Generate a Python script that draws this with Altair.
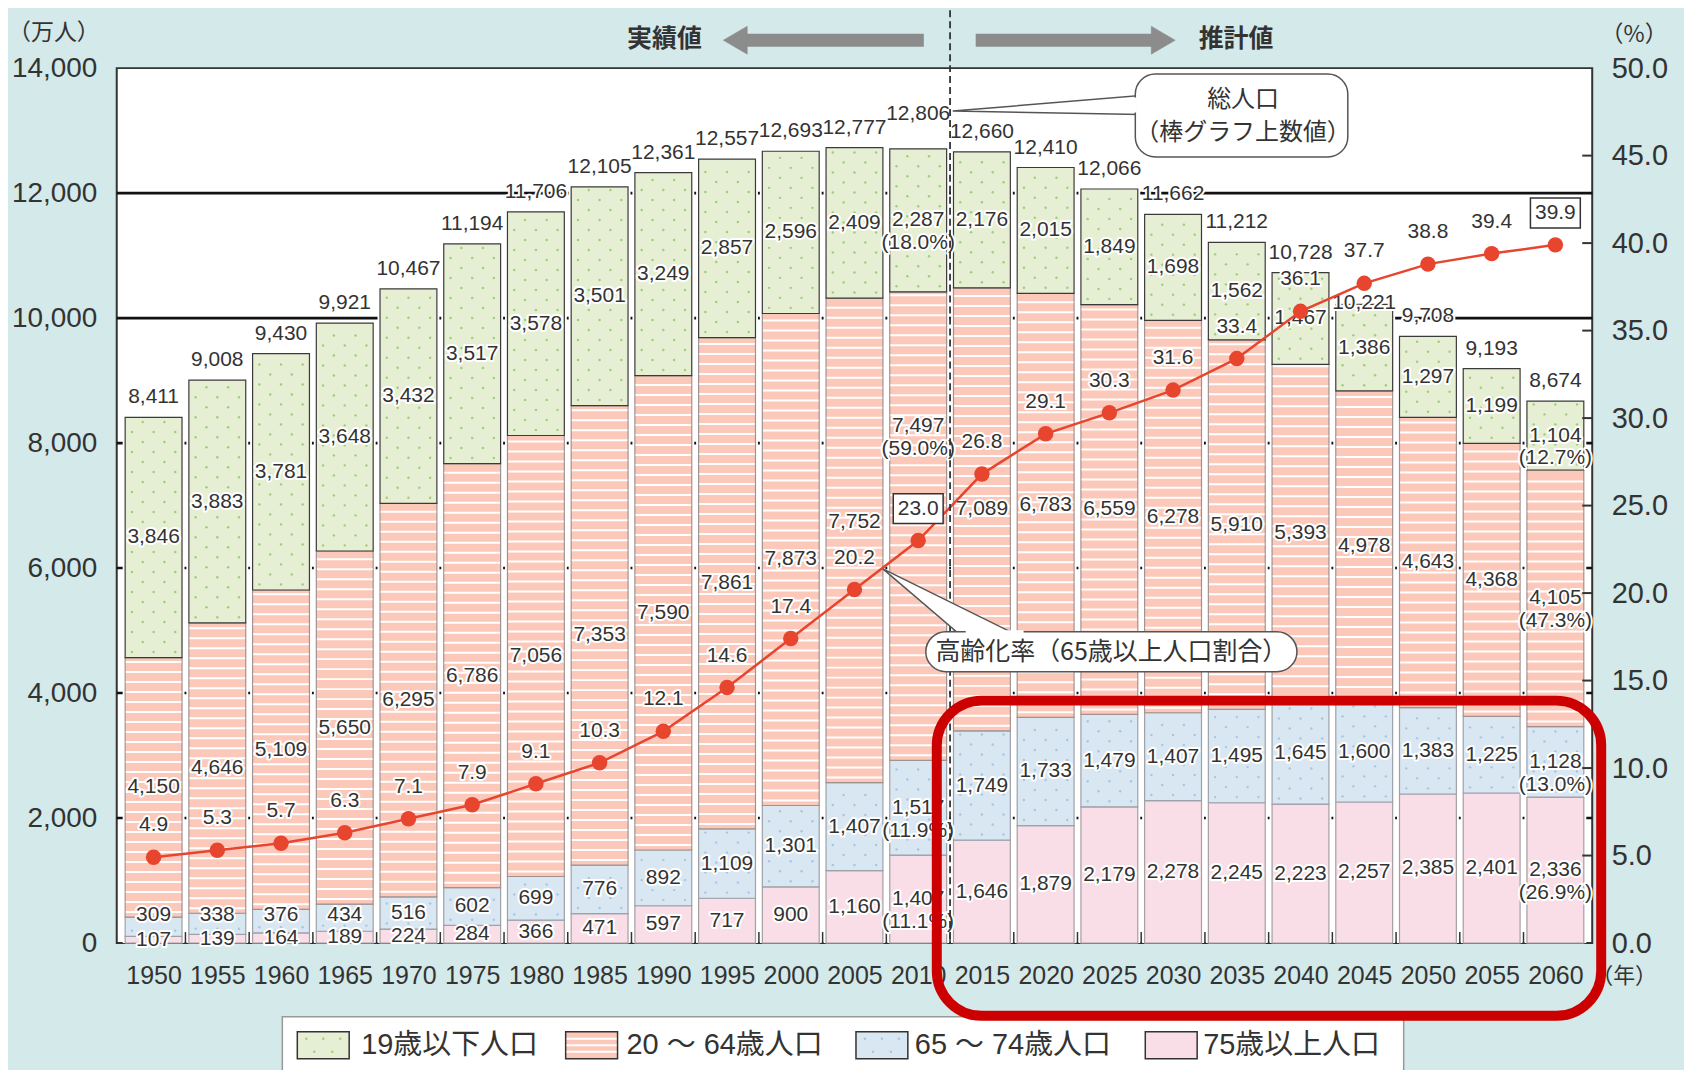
import altair as alt
import pandas as pd

# ---------------- data ----------------
years = list(range(1950, 2061, 5))
total_pop = [8411, 9008, 9430, 9921, 10467, 11194, 11706, 12105, 12361, 12557, 12693, 12777,
             12806, 12660, 12410, 12066, 11662, 11212, 10728, 10221, 9708, 9193, 8674]
pop_0_19 = [3846, 3883, 3781, 3648, 3432, 3517, 3578, 3501, 3249, 2857, 2596, 2409,
            2287, 2176, 2015, 1849, 1698, 1562, 1467, 1386, 1297, 1199, 1104]
pop_20_64 = [4150, 4646, 5109, 5650, 6295, 6786, 7056, 7353, 7590, 7861, 7873, 7752,
             7497, 7089, 6783, 6559, 6278, 5910, 5393, 4978, 4643, 4368, 4105]
pop_65_74 = [309, 338, 376, 434, 516, 602, 699, 776, 892, 1109, 1301, 1407,
             1517, 1749, 1733, 1479, 1407, 1495, 1645, 1600, 1383, 1225, 1128]
pop_75 = [107, 139, 164, 189, 224, 284, 366, 471, 597, 717, 900, 1160,
          1407, 1646, 1879, 2179, 2278, 2245, 2223, 2257, 2385, 2401, 2336]
aging_rate = [4.9, 5.3, 5.7, 6.3, 7.1, 7.9, 9.1, 10.3, 12.1, 14.6, 17.4, 20.2,
              23.0, 26.8, 29.1, 30.3, 31.6, 33.4, 36.1, 37.7, 38.8, 39.4, 39.9]
share_2010 = [18.0, 59.0, 11.9, 11.1]
share_2060 = [12.7, 47.3, 13.0, 26.9]
groups = ["19歳以下人口", "20 ～ 64歳人口", "65 ～ 74歳人口", "75歳以上人口"]
boxed_years = [2010, 2060]
left_ticks = list(range(0, 14001, 2000))
right_ticks = [0, 5, 10, 15, 20, 25, 30, 35, 40, 45, 50]

# ---------------- style ----------------
FONT = "Liberation Sans, Noto Sans CJK JP, sans-serif"
JFONT = "Noto Sans CJK JP, Liberation Sans, sans-serif"
TXT = "#333333"
BG = "#d3e9ea"
fills = ["#e6efd3", "#fcc8ba", "#d9e7f2", "#f9dee7"]
strokes = ["#3a3a3a", "#a09290", "#9ca2aa", "#a59fa2"]
dot_colors = {0: "#9dcf7a", 2: "#a9c5e2"}
RED = "#cc0000"
LINE = "#e8452f"
W, H = 1479, 877

X = alt.Scale(domain=[1947.5, 2062.5], nice=False, zero=False)
YL = alt.Scale(domain=[0, 14000], nice=False, zero=False)
YR = alt.Scale(domain=[0, 50], nice=False, zero=False)
series = [pop_0_19, pop_20_64, pop_65_74, pop_75]

# label placement tweaks (value units) where the reference moves a label off its default spot
seg_label_shift = {(2010, 1): 1600, (2005, 1): 300}
total_label_shift = {2010: 240, 2045: -300}

# ---------------- derived tables ----------------
seg_rows, stripe_rows, dot_rows, tot_rows = [], [], [], []
for i, yr in enumerate(years):
    base = 0
    for g in [3, 2, 1, 0]:
        v = series[g][i]
        lo, hi = base, base + v
        base = hi
        mid = (lo + hi) / 2
        if g == 2:
            mid = max(mid, 450)
        mid += seg_label_shift.get((yr, g), 0)
        lab = f"{v:,}"
        if yr == 2010:
            lab += f"\n({share_2010[g]:.1f}%)"
        if yr == 2060:
            lab += f"\n({share_2060[g]:.1f}%)"
        seg_rows.append(dict(year=yr, group=groups[g], lo=lo, hi=hi, mid=mid, label=lab))
        if g == 1:
            s = lo + 80
            while s < hi - 30:
                stripe_rows.append(dict(xs=yr - 2.18, xe=yr + 2.18, v=s))
                s += 160
        if g in (0, 2):
            s, k = lo + 90, 0
            while s < hi - 50:
                offs = [-1.7, 0.0, 1.7] if k % 2 == 0 else [-0.85, 0.85]
                for o in offs:
                    dot_rows.append(dict(x=yr + o, v=s, c=dot_colors[g]))
                s += 160
                k += 1
    tot_rows.append(dict(year=yr, zero=0, top=base,
                         ly=base + total_label_shift.get(yr, 0), label=f"{total_pop[i]:,}"))

seg = pd.DataFrame(seg_rows)
stripes = pd.DataFrame(stripe_rows)
dots = pd.DataFrame(dot_rows)
tot = pd.DataFrame(tot_rows)
rate = pd.DataFrame(dict(year=years, rate=aging_rate))
gaps = pd.DataFrame(dict(b=[(a + b) / 2 for a, b in zip(years[:-1], years[1:])]))
split = pd.DataFrame(dict(b=[(2010 + 2015) / 2]))
grid = pd.DataFrame(dict(g=left_ticks[1:-1]))
one = pd.DataFrame({"a": [0]})

# ---------------- axes (same object on every layer so they merge) ----------------
x_axis = alt.Axis(values=years, labelExpr="format(datum.value, 'd')", labelFontSize=25,
                  labelFont=FONT, labelColor=TXT, labelPadding=21, ticks=False, domain=False,
                  grid=False, title=None)
yl_axis = alt.Axis(values=left_ticks, labelExpr="format(datum.value, ',')", labelFontSize=28,
                   labelFont=FONT, labelColor=TXT, labelPadding=20, ticks=False, domain=False,
                   grid=False, title=None)
yr_axis = alt.Axis(values=right_ticks, labelExpr="format(datum.value, '.1f')", orient="right",
                   labelFontSize=29, labelFont=FONT, labelColor=TXT, labelPadding=19,
                   ticks=False, domain=False, grid=False, title=None)


def xq(field):
    return alt.X(field, type="quantitative", scale=X, axis=x_axis)


def yl(field):
    return alt.Y(field, type="quantitative", scale=YL, axis=yl_axis)


def yr(field):
    return alt.Y(field, type="quantitative", scale=YR, axis=yr_axis)


def halo(mark_kwargs, data, enc):
    base = alt.Chart(data)
    h = base.mark_text(fill="white", stroke="white", strokeWidth=4, strokeJoin="round",
                       **mark_kwargs).encode(**enc)
    f = base.mark_text(fill=TXT, **mark_kwargs).encode(**enc)
    return [h, f]


# ---------------- left-scale layers ----------------
grid_layer = alt.Chart(grid).mark_rule(color="#111111", strokeWidth=2.6).encode(
    x=alt.value(0), x2=alt.value(W), y=yl("g"))

backing = alt.Chart(tot).mark_bar(size=62, color="white").encode(
    x=xq("year"), y=yl("zero"), y2="top:Q")

bars = alt.Chart(seg).mark_bar(size=57, strokeWidth=1.2).encode(
    x=xq("year"), y=yl("lo"), y2="hi:Q",
    fill=alt.Fill("group:N", scale=alt.Scale(domain=groups, range=fills), legend=None),
    stroke=alt.Stroke("group:N", scale=alt.Scale(domain=groups, range=strokes), legend=None))

stripe_layer = alt.Chart(stripes).mark_rule(color="white", strokeWidth=2).encode(
    x=xq("xs"), x2="xe:Q", y=yl("v"))

dot_layer = alt.Chart(dots).mark_circle(size=6, opacity=1).encode(
    x=xq("x"), y=yl("v"), color=alt.Color("c:N", scale=None))

gap_ticks = alt.Chart(gaps).mark_rule(color="#333", strokeWidth=1.5).encode(
    x=xq("b"), y=alt.value(H), y2=alt.value(H - 11))

seg_text = halo(dict(font=FONT, fontSize=21, lineBreak="\n", lineHeight=23, baseline="middle"),
                seg, dict(x=xq("year"), y=yl("mid"), text="label:N"))
tot_text = halo(dict(font=FONT, fontSize=21, baseline="bottom", dy=-10),
                tot, dict(x=xq("year"), y=yl("ly"), text="label:N"))

left = alt.layer(grid_layer, backing, bars, stripe_layer, dot_layer, gap_ticks,
                 *seg_text, *tot_text)

# ---------------- right-scale layers ----------------
line = alt.Chart(rate).mark_line(color=LINE, strokeWidth=2.5).encode(x=xq("year"), y=yr("rate"))
pts = alt.Chart(rate).mark_circle(size=240, color=LINE, opacity=1).encode(
    x=xq("year"), y=yr("rate"))
boxes = alt.Chart(rate[rate.year.isin(boxed_years)]).mark_point(
    shape="M-1,-0.6H1V0.6H-1Z", size=2500, filled=True, fill="white", stroke="#333",
    strokeWidth=1.5, opacity=1, yOffset=-32).encode(x=xq("year"), y=yr("rate"))
rate_text = halo(dict(font=FONT, fontSize=21, baseline="middle", dy=-32),
                 rate, dict(x=xq("year"), y=yr("rate"), text=alt.Text("rate:Q", format=".1f")))
rticks = alt.Chart(pd.DataFrame(dict(t=right_ticks[1:-1]))).mark_rule(
    color="#333", strokeWidth=2).encode(x=alt.value(W - 10), x2=alt.value(W), y=yr("t"))

right = alt.layer(line, pts, boxes, *rate_text, rticks)


# ---------------- annotations ----------------
def note(text, x, y, size=24, align="center", font=JFONT, color=TXT, weight="normal"):
    return alt.Chart(one).mark_text(text=text, font=font, fontSize=size, align=align,
                                    baseline="middle", color=color, fontWeight=weight).encode(
        x=alt.value(x), y=alt.value(y))


def rect(x, x2, y, y2, **kw):
    return alt.Chart(one).mark_rect(**kw).encode(
        x=alt.value(x), x2=alt.value(x2), y=alt.value(y), y2=alt.value(y2))


def seg_rule(x, y, x2=None, y2=None, **kw):
    enc = dict(x=alt.value(x), y=alt.value(y))
    if x2 is not None:
        enc["x2"] = alt.value(x2)
    if y2 is not None:
        enc["y2"] = alt.value(y2)
    return alt.Chart(one).mark_rule(**kw).encode(**enc)


def symbol(path, x, y, size, **kw):
    return alt.Chart(one).mark_point(shape=path, size=size, filled=True, opacity=1, **kw).encode(
        x=alt.value(x), y=alt.value(y))


split_line = alt.Chart(split).mark_rule(color="#333", strokeWidth=1.8, strokeDash=[7, 4]).encode(
    x=xq("b"), y=alt.value(-58), y2=alt.value(H))

GRAY = "#8c8c8c"
header = [
    seg_rule(630, -28, x2=809, color=GRAY, strokeWidth=13, strokeCap="butt"),
    symbol("M0,0L2,-1.17L2,1.17Z", 608, -28, 576, fill=GRAY, stroke=GRAY, strokeWidth=0.5),
    seg_rule(861, -28, x2=1039, color=GRAY, strokeWidth=13, strokeCap="butt"),
    symbol("M0,0L-2,-1.17L-2,1.17Z", 1061, -28, 576, fill=GRAY, stroke=GRAY, strokeWidth=0.5),
    note("実績値", 549, -29, size=25, weight="bold"),
    note("推計値", 1122, -29, size=25, weight="bold"),
    note("（万人）", -63, -35, size=23),
    note("（%）", 1521, -33, size=23),
    note("（年）", 1478, 910, size=22, align="left"),
]

callout_total = [
    symbol("M0,0L1.88,-0.155L1.88,0.035Z", 838, 43, 40000, fill="white", stroke="#555",
           strokeWidth=1.5),
    rect(1021, 1234, 6, 89, fill="white", stroke="#555", strokeWidth=1.5, cornerRadius=20),
    seg_rule(1021, 29.5, y2=44.5, color="white", strokeWidth=3),
    note("総人口", 1129, 32, size=24),
    note("（棒グラフ上数値）", 1129, 65, size=24),
]

callout_rate = [
    symbol("M0,0L0.82,0.70L1.42,0.70Z", 768, 502, 40000, fill="white", stroke="#555",
           strokeWidth=1.5),
    rect(811, 1183, 565, 605, fill="white", stroke="#555", strokeWidth=1.5, cornerRadius=20),
    seg_rule(851, 565, x2=909, color="white", strokeWidth=3),
    note("高齢化率（65歳以上人口割合）", 997, 585, size=25),
]

# legend
sw_x = [181, 450, 741, 1031]
tx_x = [245, 511, 800, 1089]
legend = [rect(166, 1290, 951, 1010, fill="white", stroke="#999", strokeWidth=1.5)]
for k, g in enumerate(groups):
    x0 = sw_x[k]
    legend.append(rect(x0, x0 + 52, 966, 993, fill=fills[k], stroke="#333", strokeWidth=1.5))
    if k == 1:
        for yy in (973, 979.5, 986):
            legend.append(seg_rule(x0 + 1, yy, x2=x0 + 51, color="white", strokeWidth=2))
    if k in (0, 2):
        dd = pd.DataFrame(dict(x=[x0 + 9, x0 + 26, x0 + 43, x0 + 17, x0 + 35],
                               y=[973, 973, 973, 986, 986]))
        legend.append(alt.Chart(dd).mark_circle(size=6, opacity=1, color=dot_colors[k]).encode(
            x=alt.X("x:Q", scale=None, axis=None), y=alt.Y("y:Q", scale=None, axis=None)))
    legend.append(note(g, tx_x[k], 979, size=29, align="left", font=FONT))

red_box = rect(822, 1488, 634, 950, fillOpacity=0, stroke=RED, strokeWidth=10, cornerRadius=45)

chart = alt.layer(
    left, right, split_line, *header, *callout_rate, *callout_total, *legend, red_box
).resolve_scale(y="independent").properties(
    width=W, height=H, background=BG,
    padding={"left": 109, "top": 59, "right": 92, "bottom": 126},
    autosize=alt.AutoSizeParams(type="none"),
).configure_view(fill="white", stroke="#333", strokeWidth=2)

chart.save("out.html", embed_options={"renderer": "svg", "actions": False})
